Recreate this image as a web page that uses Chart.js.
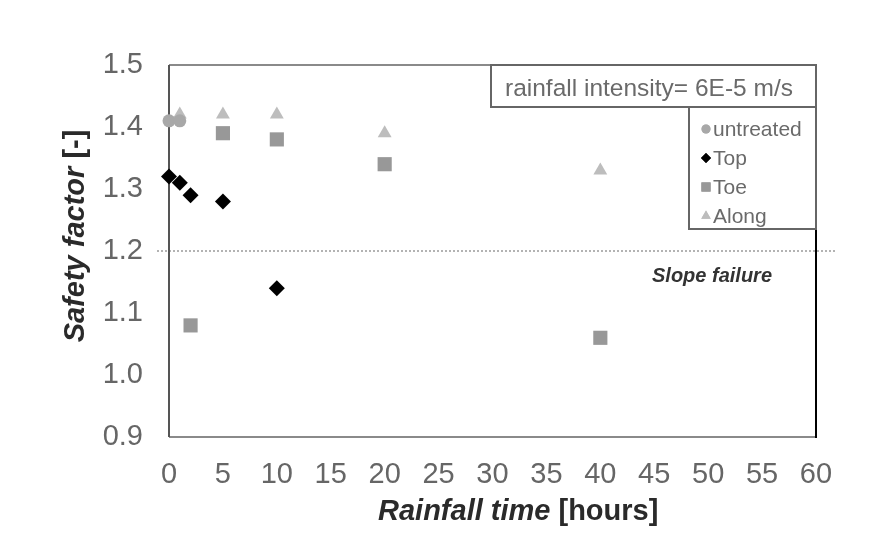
<!DOCTYPE html>
<html>
<head>
<meta charset="utf-8">
<script src="https://cdn.jsdelivr.net/npm/chart.js@4"></script>
<style>
  body { margin: 0; background: #fff; }
  canvas { display: block; }
</style>
</head>
<body>
<canvas id="chart" width="882" height="539"></canvas>
<script>
// ─── Data ────────────────────────────────────────────────────
const untreatedTime = [0, 1];
const untreatedFS   = [1.41, 1.41];

const topTime   = [0, 1, 2, 5, 10];
const topFS     = [1.32, 1.31, 1.29, 1.28, 1.14];

const toeTime   = [2, 5, 10, 20, 40];
const toeFS     = [1.08, 1.39, 1.38, 1.34, 1.06];

const alongTime = [1, 5, 10, 20, 40];
const alongFS   = [1.42, 1.42, 1.42, 1.39, 1.33];

const seriesNames = ['untreated', 'Top', 'Toe', 'Along'];
const failureFS   = 1.2;
const boxLabel    = 'rainfall intensity= 6E-5 m/s';
const failureLabel = 'Slope failure';

const FONT = '"Liberation Sans", Arial, sans-serif';

const toPoints = (xs, ys) => xs.map((x, i) => ({ x, y: ys[i] }));

// ─── Styles per series ───────────────────────────────────────
const styles = [
  { color: '#a8a8a8', shape: 'circle',   r: 6.5, lr: 4.5 },
  { color: '#000000', shape: 'rectRot',  r: 8,   lr: 5 },
  { color: '#989898', shape: 'rect',     r: 10,  lr: 6.5 },
  { color: '#bdbdbd', shape: 'triangle', r: 8,   lr: 5.5 },
];

const pointSets = [
  toPoints(untreatedTime, untreatedFS),
  toPoints(topTime, topFS),
  toPoints(toeTime, toeFS),
  toPoints(alongTime, alongFS),
];

// ─── Decorations: frame, failure line, titles, legend ────────
const decor = {
  id: 'decor',
  beforeDatasetsDraw(chart) {
    const { ctx, chartArea: a, scales } = chart;
    const yF = scales.y.getPixelForValue(failureFS);
    ctx.save();
    ctx.strokeStyle = '#9a9a9a';
    ctx.lineWidth = 1.5;
    ctx.setLineDash([2, 2]);
    ctx.beginPath();
    ctx.moveTo(a.left - 12, yF);
    ctx.lineTo(a.right + 20, yF);
    ctx.stroke();
    ctx.restore();

    // plot frame under the points
    ctx.save();
    ctx.lineWidth = 2;
    ctx.strokeStyle = '#8a8a8a';
    ctx.beginPath();
    ctx.moveTo(a.left, a.top); ctx.lineTo(a.right, a.top);
    ctx.moveTo(a.left, a.bottom); ctx.lineTo(a.right, a.bottom);
    ctx.stroke();
    ctx.strokeStyle = '#555';
    ctx.beginPath();
    ctx.moveTo(a.left, a.top); ctx.lineTo(a.left, a.bottom);
    ctx.stroke();
    ctx.strokeStyle = '#000';
    ctx.beginPath();
    ctx.moveTo(a.right, a.top - 1); ctx.lineTo(a.right, a.bottom + 1);
    ctx.stroke();
    ctx.restore();
  },
  afterDraw(chart) {
    const { ctx, chartArea: a } = chart;
    ctx.save();

    // intensity box
    ctx.strokeStyle = '#666';
    ctx.lineWidth = 2;
    ctx.fillStyle = '#fff';
    ctx.fillRect(491, a.top, a.right - 491, 42);
    ctx.strokeRect(491, a.top, a.right - 491, 42);
    ctx.fillStyle = '#6a6a6a';
    ctx.font = `24.5px ${FONT}`;
    ctx.textBaseline = 'middle';
    ctx.textAlign = 'left';
    ctx.fillText(boxLabel, 505, a.top + 24);

    // legend box
    ctx.fillStyle = '#fff';
    ctx.fillRect(689, a.top + 42, a.right - 689, 122);
    ctx.strokeRect(689, a.top + 42, a.right - 689, 122);
    const rowY = [129, 158, 187, 216];
    ctx.font = `21px ${FONT}`;
    seriesNames.forEach((name, i) => {
      const s = styles[i];
      ctx.fillStyle = s.color;
      ctx.strokeStyle = s.color;
      Chart.helpers.drawPoint(ctx, { pointStyle: s.shape, radius: s.lr, borderWidth: 0 }, 706, rowY[i]);
      ctx.fill();
      ctx.fillStyle = '#6a6a6a';
      ctx.fillText(name, 713, rowY[i] + 1);
    });

    // slope failure text
    ctx.fillStyle = '#333';
    ctx.font = `italic bold 20px ${FONT}`;
    ctx.fillText(failureLabel, 652, 276);

    // x title
    ctx.textBaseline = 'alphabetic';
    ctx.fillStyle = '#2a2a2a';
    ctx.font = `italic bold 29px ${FONT}`;
    const xPart = 'Rainfall time';
    ctx.fillText(xPart, 378, 520);
    const w = ctx.measureText(xPart + ' ').width;
    ctx.font = `bold 29px ${FONT}`;
    ctx.fillText('[hours]', 378 + w, 520);

    // y title
    ctx.translate(84, 236);
    ctx.rotate(-Math.PI / 2);
    const yPart = 'Safety factor';
    ctx.font = `italic bold 29px ${FONT}`;
    const w1 = ctx.measureText(yPart + ' ').width;
    ctx.font = `bold 29px ${FONT}`;
    const w2 = ctx.measureText('[-]').width;
    const x0 = -(w1 + w2) / 2;
    ctx.font = `italic bold 29px ${FONT}`;
    ctx.fillText(yPart, x0, 0);
    ctx.font = `bold 29px ${FONT}`;
    ctx.fillText('[-]', x0 + w1, 0);

    ctx.restore();
  },
};

// ─── Chart ───────────────────────────────────────────────────
new Chart(document.getElementById('chart'), {
  type: 'scatter',
  data: {
    datasets: seriesNames.map((name, i) => ({
      label: name,
      data: pointSets[i],
      pointStyle: styles[i].shape,
      pointRadius: styles[i].r,
      backgroundColor: styles[i].color,
      borderColor: styles[i].color,
      borderWidth: 0,
      clip: false,
    })),
  },
  options: {
    responsive: false,
    animation: false,
    devicePixelRatio: 1,
    layout: { padding: { top: 65, right: 66, bottom: 0, left: 0 } },
    plugins: { legend: { display: false }, tooltip: { enabled: false } },
    scales: {
      x: {
        type: 'linear',
        min: 0, max: 60,
        afterFit: (s) => { s.height = 102; },
        grid: { display: false, drawTicks: false },
        border: { display: false },
        ticks: {
          stepSize: 5,
          padding: 21,
          color: '#666',
          font: { family: FONT, size: 29 },
        },
      },
      y: {
        min: 0.9, max: 1.5,
        afterFit: (s) => { s.width = 169; },
        grid: { display: false, drawTicks: false },
        border: { display: false },
        ticks: {
          stepSize: 0.1,
          padding: 26,
          color: '#666',
          font: { family: FONT, size: 29 },
          callback: (v) => v.toFixed(1),
        },
      },
    },
  },
  plugins: [decor],
});
</script>
</body>
</html>
